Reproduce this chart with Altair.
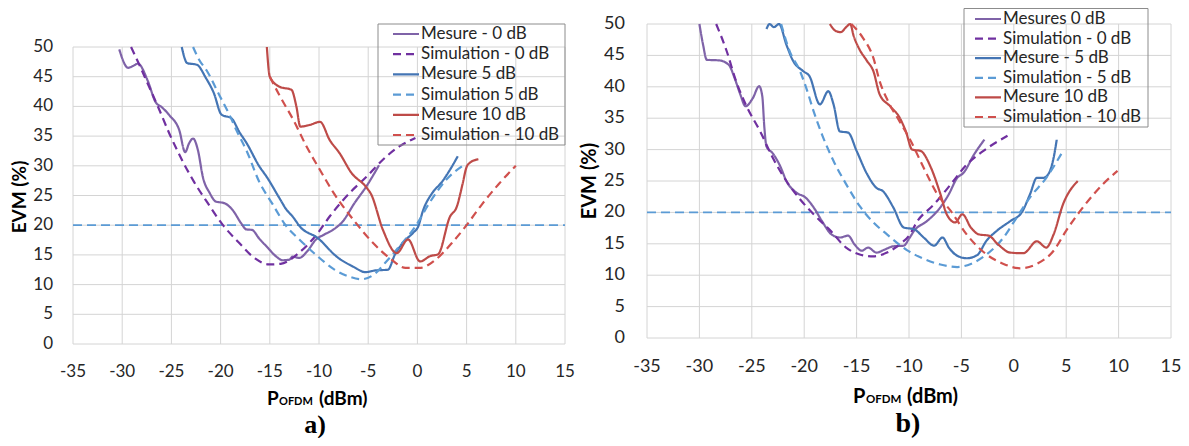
import altair as alt
import pandas as pd

# ---------------- data ----------------
x_tick_vals = [-35, -30, -25, -20, -15, -10, -5, 0, 5, 10, 15]
x_tick_labels = ["-35", "-30", "-25", "-20", "-15", "-10", "-5", "0", "5", "10", "15"]
y_tick_vals = [0, 5, 10, 15, 20, 25, 30, 35, 40, 45, 50]
y_tick_labels = ["0", "5", "10", "15", "20", "25", "30", "35", "40", "45", "50"]
evm_limit = 20

a_labels = ["Mesure - 0 dB", "Simulation - 0 dB", "Mesure 5 dB",
            "Simulation 5 dB", "Mesure 10 dB", "Simulation - 10 dB"]
b_labels = ["Mesures 0 dB", "Simulation - 0 dB", "Mesure - 5 dB",
            "Simulation - 5 dB", "Mesure 10 dB", "Simulation - 10 dB"]

# panel a)
a_m0_x = [-30.3, -29.4, -28.9, -28.4, -27.4, -26.6, -26.0, -25.2, -24.2, -23.6, -23.2, -22.8,
          -22.3, -21.8, -21.1, -20.5, -19.6, -18.8, -17.9, -17.4, -16.8, -16.1, -15.2, -14.4,
          -13.7, -13.0, -12.7, -12.0, -11.2, -10.3, -9.5, -8.6, -7.6, -6.4, -5.2, -3.9]
a_m0_y = [49.6, 46.5, 46.8, 47.2, 44.3, 40.7, 39.9, 38.5, 36.0, 32.3, 33.8, 34.6,
          32.6, 28.1, 25.4, 24.0, 23.7, 22.6, 20.3, 19.3, 19.2, 17.8, 16.2, 14.8,
          14.1, 14.2, 14.7, 14.5, 15.6, 17.6, 18.4, 19.2, 20.6, 23.7, 26.5, 30.1]
a_s0_x = [-29.1, -28.2, -27.4, -26.4, -25.2, -23.9, -22.7, -21.3, -19.8, -18.1, -16.5,
          -15.1, -13.9, -12.0, -10.2, -8.9, -6.9, -5.2, -3.2, -1.8, -0.2]
a_s0_y = [50.0, 46.8, 43.8, 40.1, 35.4, 30.9, 27.3, 23.7, 20.1, 17.0, 14.4,
          13.4, 13.5, 15.4, 18.5, 21.5, 25.4, 28.1, 31.5, 33.3, 34.7]
a_m5_x = [-23.95, -23.4, -22.4, -21.5, -20.7, -19.9, -18.9, -18.1, -17.35, -16.1, -15.3,
          -14.0, -13.3, -12.7, -11.9, -10.1, -8.2, -6.5, -5.3, -4.2, -3.0, -2.3, -1.5,
          -0.45, 0.06, 0.6, 1.5, 2.5, 3.3, 4.1]
a_m5_y = [50.0, 47.3, 47.0, 44.8, 42.3, 38.6, 38.0, 35.7, 33.8, 30.0, 28.1,
          24.5, 22.6, 21.5, 19.7, 17.8, 14.7, 13.0, 12.1, 12.4, 12.5, 15.0, 17.0,
          18.7, 19.7, 22.6, 25.4, 27.3, 29.3, 31.6]
a_s5_x = [-22.8, -22.2, -21.4, -20.1, -19.05, -18.4, -17.35, -16.1, -14.7, -13.4, -12.0,
          -10.3, -8.5, -6.85, -5.7, -4.5, -3.2, -1.85, -0.2, 1.2, 2.9, 4.7]
a_s5_y = [50.0, 47.9, 46.0, 41.8, 38.4, 36.0, 32.5, 27.4, 23.5, 20.0, 17.6,
          15.0, 12.6, 11.3, 10.9, 11.6, 13.8, 16.4, 19.8, 23.7, 27.6, 30.1]
a_m10_x = [-15.3, -15.0, -14.0, -12.8, -12.3, -11.9, -10.9, -9.9, -8.9, -7.9, -6.7, -5.2,
           -4.7, -3.5, -2.1, -0.95, 0.27, 1.3, 2.1, 3.3, 4.0, 4.6, 5.0, 5.4, 6.2]
a_m10_y = [50.0, 45.0, 43.3, 42.8, 40.0, 36.6, 36.9, 37.4, 34.3, 32.1, 28.8, 26.4,
           25.2, 19.2, 15.3, 17.6, 13.9, 14.8, 15.1, 21.4, 23.1, 27.0, 29.8, 30.6, 31.1]
a_s10_x = [-15.0, -14.0, -12.6, -11.25, -9.9, -8.5, -6.5, -4.5, -2.7, -1.2, 0.2, 1.85,
           3.5, 4.9, 6.6, 8.25, 10.0]
a_s10_y = [45.0, 41.8, 37.7, 33.2, 29.3, 25.4, 20.9, 17.0, 14.3, 12.8, 12.8, 14.2,
           17.0, 19.8, 23.6, 26.9, 30.0]

# panel b)
b_m0_x = [-30.0, -29.65, -29.3, -28.1, -27.2, -26.6, -26.1, -25.6, -24.9, -24.3, -24.0,
          -23.8, -23.6, -23.0, -22.3, -21.7, -20.7, -19.9, -19.1, -18.3, -17.4, -16.6,
          -15.8, -15.2, -14.5, -13.9, -13.1, -12.3, -11.5, -10.5, -10.0, -9.5, -8.3,
          -7.15, -6.2, -5.4, -4.8, -3.8, -2.8]
b_m0_y = [50.0, 46.7, 44.3, 44.2, 43.5, 41.2, 38.8, 36.9, 38.2, 40.1, 38.5,
          33.5, 30.5, 29.4, 27.4, 25.0, 23.1, 22.4, 20.8, 18.6, 16.5, 16.0,
          16.3, 14.9, 13.9, 14.4, 13.6, 14.1, 14.6, 14.7, 15.8, 17.1, 18.6,
          20.5, 22.9, 25.5, 26.3, 29.2, 31.6]
b_s0_x = [-28.4, -27.4, -26.5, -25.5, -24.2, -23.0, -21.7, -20.4, -19.1, -17.5, -16.0,
          -14.7, -13.4, -12.1, -10.9, -10.0, -9.2, -7.6, -6.0, -4.5, -2.9, -0.6]
b_s0_y = [50.0, 45.7, 40.9, 36.9, 32.9, 28.7, 25.0, 22.1, 19.7, 17.1, 14.4,
          13.3, 13.0, 13.6, 14.9, 16.3, 18.6, 21.3, 24.5, 27.6, 29.8, 32.2]
b_m5_x = [-23.6, -23.3, -22.9, -22.4, -21.7, -21.05, -20.1, -19.5, -18.5, -17.7, -17.2,
          -16.6, -15.8, -15.0, -14.0, -13.1, -12.5, -11.5, -10.5, -9.5, -8.6, -7.6, -6.8,
          -6.2, -5.4, -4.5, -3.5, -2.6, -1.6, -0.35, 0.76, 1.55, 2.2, 2.8, 3.3, 3.8, 4.1]
b_m5_y = [49.2, 50.0, 49.5, 50.0, 46.7, 44.1, 42.5, 41.7, 37.2, 39.3, 37.2,
          32.9, 32.7, 29.8, 26.1, 23.9, 23.4, 20.8, 17.6, 17.3, 16.0, 14.7, 16.0,
          14.4, 13.1, 12.7, 13.2, 15.5, 17.1, 18.6, 20.0, 22.9, 25.5, 25.5, 26.1, 28.7, 31.6]
b_s5_x = [-22.2, -21.4, -20.4, -19.8, -19.1, -18.3, -17.2, -16.0, -14.7, -13.4, -12.1,
          -10.2, -8.6, -7.0, -5.4, -4.1, -2.6, -0.98, 0.28, 1.55, 3.1, 4.7]
b_s5_y = [50.0, 45.7, 42.5, 39.8, 36.1, 32.4, 28.2, 24.5, 21.0, 18.4, 16.5,
          14.0, 12.6, 11.7, 11.3, 11.8, 13.3, 16.0, 19.2, 22.4, 25.5, 29.8]
b_m10_x = [-17.55, -17.0, -16.5, -16.0, -15.6, -15.3, -14.8, -14.0, -13.4, -12.8, -11.8,
           -10.9, -10.3, -9.7, -8.9, -7.9, -7.0, -6.4, -5.6, -4.9, -4.1, -3.35, -2.4,
           -1.5, -0.35, 0.92, 2.2, 3.1, 3.8, 4.7, 6.1]
b_m10_y = [50.0, 48.9, 48.7, 49.5, 50.0, 48.2, 46.2, 44.1, 42.5, 38.8, 36.9,
           35.1, 32.9, 30.0, 29.8, 27.1, 22.9, 19.7, 18.4, 19.7, 17.6, 16.5, 16.3,
           14.9, 13.6, 13.5, 15.4, 14.4, 16.5, 21.3, 25.0]
b_s10_x = [-15.5, -14.4, -13.4, -12.8, -12.0, -10.9, -9.84, -8.6, -7.3, -6.0, -4.5,
           -2.6, -0.98, 0.6, 2.2, 3.8, 5.0, 6.6, 8.5, 9.9]
b_s10_y = [50.0, 47.8, 44.6, 40.9, 37.7, 34.5, 31.4, 27.1, 22.9, 20.2, 16.5,
           13.3, 11.8, 11.1, 11.8, 13.9, 17.1, 20.8, 24.5, 26.6]

# ---------------- styles ----------------
colors = ["#7F63A8", "#7030A0", "#4475B4", "#5B9BD5", "#BE4B48", "#D0504D"]
dashes = [[1, 0], [8, 5], [1, 0], [8, 5], [1, 0], [8, 5]]
FONT = "Lato"
GRID = "#d4d4d4"
TXT = "#262626"


def long_df(labels, xs_list, ys_list):
    rows = []
    for lab, xs, ys in zip(labels, xs_list, ys_list):
        for i, (x, y) in enumerate(zip(xs, ys)):
            rows.append({"s": lab, "x": x, "y": y, "i": i})
    return pd.DataFrame(rows)


def one(text):
    return pd.DataFrame({"t": [text]})


def make_panel(labels, xs_list, ys_list, L):
    xs = alt.Scale(domain=[-35, 15], range=L["xr"], nice=False, zero=False)
    ys = alt.Scale(domain=[0, 50], range=L["yr"], nice=False, zero=False)
    cs = alt.Scale(domain=labels, range=colors)
    ds = alt.Scale(domain=labels, range=dashes)

    def X(f):
        return alt.X(f, scale=xs, axis=None)

    def Y(f):
        return alt.Y(f, scale=ys, axis=None)

    gv = alt.Chart(pd.DataFrame({"gx": x_tick_vals, "g0": 0, "g1": 50})).mark_rule(
        color=GRID, strokeWidth=1).encode(x=X("gx:Q"), y=Y("g0:Q"), y2=alt.Y2("g1"))
    gh = alt.Chart(pd.DataFrame({"gy": y_tick_vals, "g0": -35, "g1": 15})).mark_rule(
        color=GRID, strokeWidth=1).encode(y=Y("gy:Q"), x=X("g0:Q"), x2=alt.X2("g1"))
    ref = alt.Chart(pd.DataFrame({"r0": [-35], "r1": [15], "ry": [evm_limit]})).mark_rule(
        color="#5B9BD5", strokeWidth=1.8, strokeDash=[9, 5]).encode(
        y=Y("ry:Q"), x=X("r0:Q"), x2=alt.X2("r1"))

    lines = alt.Chart(long_df(labels, xs_list, ys_list)).mark_line(
        interpolate="monotone", strokeWidth=2.2).encode(
        x=X("x:Q"), y=Y("y:Q"),
        color=alt.Color("s:N", scale=cs, legend=None),
        strokeDash=alt.StrokeDash("s:N", scale=ds, legend=None),
        order="i:Q")

    xl = alt.Chart(pd.DataFrame({"v": x_tick_vals, "t": x_tick_labels})).mark_text(
        font=FONT, fontSize=L["fs"], color=TXT, baseline="middle", align="center").encode(
        x=X("v:Q"), y=alt.value(L["xlab_y"]), text="t:N")
    yl = alt.Chart(pd.DataFrame({"v": y_tick_vals, "t": y_tick_labels})).mark_text(
        font=FONT, fontSize=L["fs"], color=TXT, baseline="middle", align="right").encode(
        y=Y("v:Q"), x=alt.value(L["ylab_x"]), text="t:N")

    yt = alt.Chart(one("EVM (%)")).mark_text(
        font=FONT, fontSize=L["tfs"], fontWeight="bold", color="#000", angle=270,
        align="center", baseline="middle").encode(
        x=alt.value(L["yt"][0]), y=alt.value(L["yt"][1]), text="t:N")

    px, ox, dx, by = L["xt"]
    t1 = alt.Chart(one("P")).mark_text(
        font=FONT, fontSize=L["tfs"], fontWeight="bold", color="#000", align="left",
        baseline="alphabetic").encode(x=alt.value(px), y=alt.value(by), text="t:N")
    t2 = alt.Chart(one("OFDM")).mark_text(
        font=FONT, fontSize=L["sfs"], fontWeight="bold", color="#000", align="left",
        baseline="alphabetic").encode(x=alt.value(ox), y=alt.value(by), text="t:N")
    t3 = alt.Chart(one("(dBm)")).mark_text(
        font=FONT, fontSize=L["tfs"], fontWeight="bold", color="#000", align="left",
        baseline="alphabetic").encode(x=alt.value(dx), y=alt.value(by), text="t:N")

    pl = alt.Chart(one(L["name"])).mark_text(
        font="Liberation Serif", fontSize=L["pfs"], fontWeight="bold", color="#000",
        align="center", baseline="alphabetic").encode(
        x=alt.value(L["pl"][0]), y=alt.value(L["pl"][1]), text="t:N")

    bx = L["box"]
    box = alt.Chart(one("")).mark_rect(
        fillOpacity=0, stroke="#8c8c8c", strokeWidth=1).encode(
        x=alt.value(bx[0]), x2=alt.value(bx[1]), y=alt.value(bx[2]), y2=alt.value(bx[3]))
    leg_df = pd.DataFrame({"s": labels, "r": list(range(len(labels)))})
    y0, dy = L["rows"]
    calc = f"{y0} + {dy} * datum.r"
    leg_line = alt.Chart(leg_df).transform_calculate(ly=calc).mark_rule(
        strokeWidth=2.2).encode(
        x=alt.value(L["lx"][0]), x2=alt.value(L["lx"][1]),
        y=alt.Y("ly:Q", scale=None, axis=None),
        color=alt.Color("s:N", scale=cs, legend=None),
        strokeDash=alt.StrokeDash("s:N", scale=ds, legend=None))
    leg_txt = alt.Chart(leg_df).transform_calculate(ly=calc).mark_text(
        font=FONT, fontSize=17, color=TXT, align="left", baseline="middle").encode(
        x=alt.value(L["lx"][2]), y=alt.Y("ly:Q", scale=None, axis=None), text="s:N")

    return alt.layer(gv, gh, ref, lines, box, leg_line, leg_txt, xl, yl, yt,
                     t1, t2, t3, pl)


LA = dict(xr=[65, 557], yr=[336, 39], fs=17, tfs=19, sfs=11, pfs=26,
          xlab_y=364, ylab_x=45, yt=(11.5, 189), xt=(259, 271, 311, 397),
          pl=(307, 425), name="a)", box=[370, 557, 16, 137], rows=(26, 20.2),
          lx=[385, 411, 413])
LB = dict(xr=[639, 1163], yr=[330, 16], fs=18, tfs=20, sfs=11.5, pfs=28,
          xlab_y=359, ylab_x=617, yt=(581.5, 173), xt=(845, 858, 899, 395),
          pl=(900, 424), name="b)", box=[956, 1140, 0.5, 119], rows=(11, 19.6),
          lx=[967, 993, 995])

panel_a = make_panel(a_labels, [a_m0_x, a_s0_x, a_m5_x, a_s5_x, a_m10_x, a_s10_x],
                     [a_m0_y, a_s0_y, a_m5_y, a_s5_y, a_m10_y, a_s10_y], LA)
panel_b = make_panel(b_labels, [b_m0_x, b_s0_x, b_m5_x, b_s5_x, b_m10_x, b_s10_x],
                     [b_m0_y, b_s0_y, b_m5_y, b_s5_y, b_m10_y, b_s10_y], LB)

chart = alt.layer(panel_a, panel_b).resolve_scale(
    x="independent", y="independent", color="independent", strokeDash="independent"
).properties(
    width=1173, height=430, padding=0,
    autosize=alt.AutoSizeParams(type="none"),
    background="white",
).configure_view(stroke=None)

chart.save("out.html", embed_options={"renderer": "svg", "actions": False})
